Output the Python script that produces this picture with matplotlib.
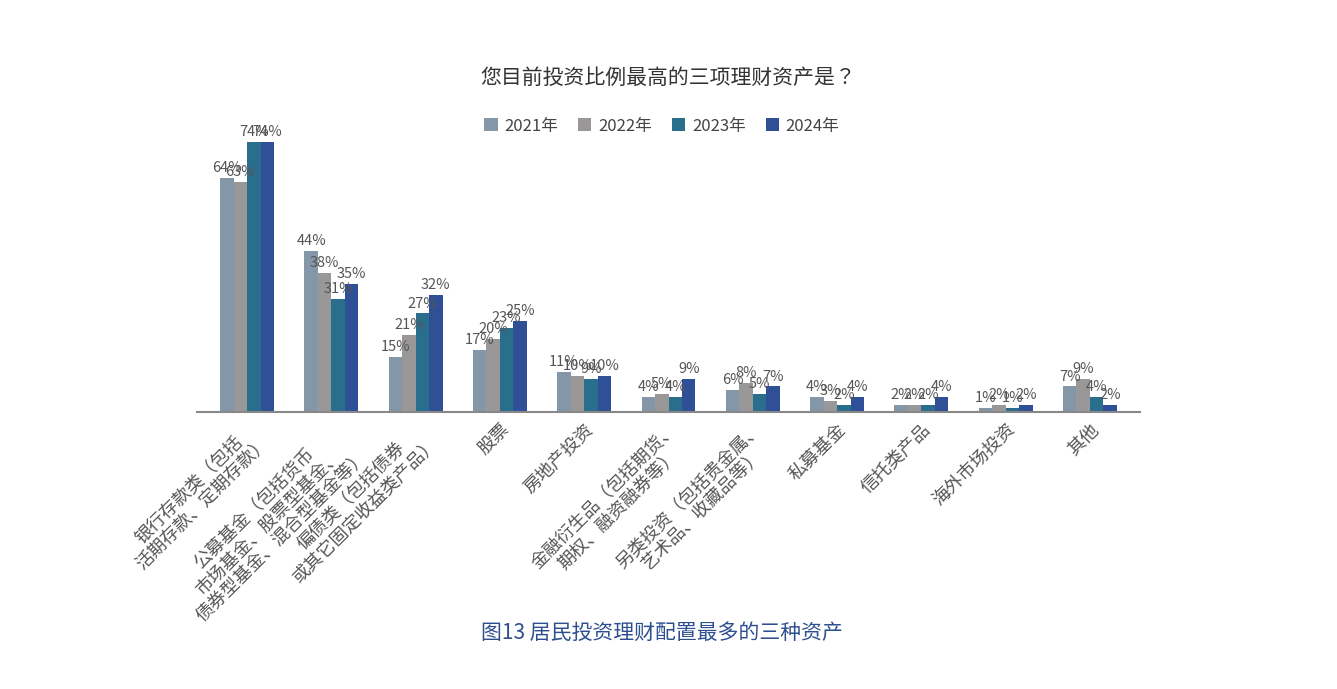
import matplotlib
matplotlib.use("Agg")
import matplotlib.pyplot as plt
import numpy as np

plt.rcParams['font.family'] = ['Noto Sans CJK SC', 'Noto Sans CJK JP', 'Noto Sans CJK TC', 'DejaVu Sans']

categories = ["银行存款类（包括\n活期存款、定期存款）",
              "公募基金（包括货币\n市场基金、股票型基金、\n债券型基金、混合型基金等）",
              "偏债类（包括债券\n或其它固定收益类产品）",
              "股票", "房地产投资",
              "金融衍生品（包括期货、\n期权、融资融券等）",
              "另类投资（包括贵金属、\n艺术品、收藏品等）",
              "私募基金", "信托类产品", "海外市场投资", "其他"]
years = ["2021年", "2022年", "2023年", "2024年"]
v2021 = [64, 44, 15, 17, 11, 4, 6, 4, 2, 1, 7]
v2022 = [63, 38, 21, 20, 10, 5, 8, 3, 2, 2, 9]
v2023 = [74, 31, 27, 23, 9, 4, 5, 2, 2, 1, 4]
v2024 = [74, 35, 32, 25, 10, 9, 7, 4, 4, 2, 2]
series = [v2021, v2022, v2023, v2024]
colors = ["#8497a8", "#999797", "#2a6e8e", "#2f4f97"]

fig = plt.figure(figsize=(13.37, 6.89), dpi=100)
ax = fig.add_axes([0.147, 0.402, 0.706, 0.424])
x = np.arange(len(categories))
w = 0.16
for i, (vals, c, yr) in enumerate(zip(series, colors, years)):
    pos = x + (i - 1.5) * w
    ax.bar(pos, vals, w, color=c, label=yr)
    for p, v in zip(pos, vals):
        ax.text(p, v + 0.8, f"{v}%", ha='center', va='bottom', fontsize=10.5, color='#555555')
ax.set_xlim(-0.6, len(categories) - 0.4)
ax.set_ylim(0, 80)
ax.set_yticks([])
for s in ['top', 'right', 'left']:
    ax.spines[s].set_visible(False)
ax.spines['bottom'].set_color('#888888')
ax.spines['bottom'].set_linewidth(1.5)
ax.set_xticks(x)
ax.set_xticklabels(categories, rotation=45, ha='right', rotation_mode='anchor',
                   fontsize=13, color='#555555', multialignment='center', linespacing=1.1)
ax.tick_params(axis='x', length=0, pad=6)

fig.text(0.5, 0.887, "您目前投资比例最高的三项理财资产是？", ha='center', va='center',
         fontsize=15, color='#333333')
fig.legend(loc='center', bbox_to_anchor=(0.495, 0.817), ncol=4, frameon=False,
           fontsize=12, handlelength=0.8, handleheight=0.8, columnspacing=1.2,
           handletextpad=0.4, labelcolor='#444444')
fig.text(0.495, 0.081, "图13 居民投资理财配置最多的三种资产", ha='center', va='center',
         fontsize=15, color='#2e4f8f')
fig.savefig("out.png", dpi=100)
